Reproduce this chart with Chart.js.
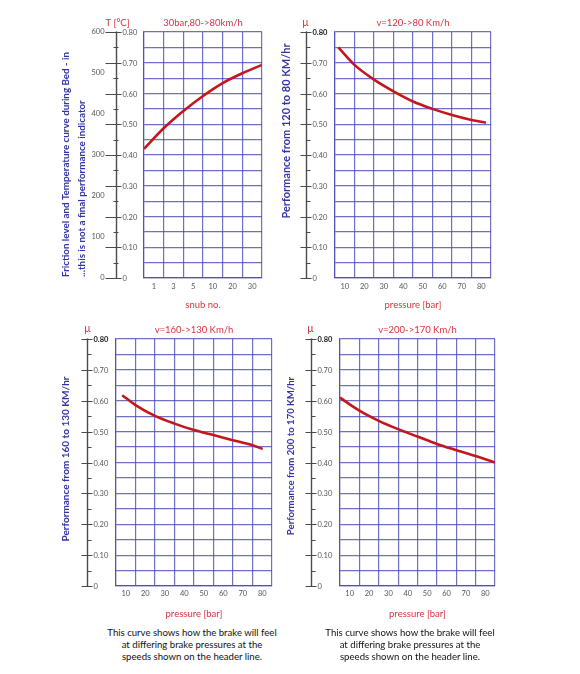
<!DOCTYPE html>
<html><head><meta charset="utf-8">
<script src="https://cdn.jsdelivr.net/npm/chart.js@4.4.1/dist/chart.umd.min.js"></script>
<style>
html,body{margin:0;padding:0;background:#fff;width:580px;height:674px;overflow:hidden}
canvas{position:absolute}
.cap{position:absolute;width:240px;text-align:center;font-family:Lato,sans-serif;font-size:9.6px;line-height:12px;color:#111}
</style></head><body>
<canvas id="c1" width="290" height="318" style="left:0;top:0"></canvas>
<canvas id="c2" width="305" height="318" style="left:275px;top:0"></canvas>
<canvas id="c3" width="290" height="315" style="left:0;top:310px"></canvas>
<canvas id="c4" width="305" height="315" style="left:275px;top:310px"></canvas>
<div class="cap" style="left:72px;top:627px">This curve shows how the brake will feel<br>at differing brake pressures at the<br>speeds shown on the header line.</div>
<div class="cap" style="left:290px;top:627px">This curve shows how the brake will feel<br>at differing brake pressures at the<br>speeds shown on the header line.</div>
<script>
// ---- data ----
const muTicks = [0, 0.1, 0.2, 0.3, 0.4, 0.5, 0.6, 0.7, 0.8];
const muTickLabels = ['0', '0.10', '0.20', '0.30', '0.40', '0.50', '0.60', '0.70', '0.80'];
const muMinor = [0.05, 0.15, 0.25, 0.35, 0.45, 0.55, 0.65, 0.75];
const tempTicks = [0, 100, 200, 300, 400, 500, 600];

const snubLabels = ['1', '3', '5', '10', '20', '30'];
const snubPos = [0, 1, 2, 3, 4, 5, 6];
const bedFriction = [0.420, 0.487, 0.543, 0.592, 0.634, 0.666, 0.693];

const pressureLabels = ['10', '20', '30', '40', '50', '60', '70', '80'];
const p120x = [6.7, 15, 25, 35, 45, 55, 65, 75, 82.4];
const mu120 = [0.750, 0.693, 0.645, 0.607, 0.574, 0.550, 0.530, 0.514, 0.505];
const p160x = [8.2, 15, 25, 35, 45, 55, 65, 75, 80.2];
const mu160 = [0.618, 0.586, 0.551, 0.526, 0.505, 0.489, 0.472, 0.456, 0.444];
const p200x = [5, 15, 25, 35, 45, 55, 65, 75, 85];
const mu200 = [0.610, 0.568, 0.535, 0.508, 0.484, 0.460, 0.440, 0.421, 0.400];

// ---- styles ----
const FONT = 'Lato, "Open Sans", sans-serif';
const RED = '#d8343f';
const CURVE = '#c4161e';
const GRID = 'rgba(72,72,178,0.78)';
const BLUE = '#3434a6';
const AXIS = '#4a4a4a';
const TICKC = '#555';

const extAxisPlugin = {
  id: 'extAxis',
  afterDraw(chart, args, o) {
    const ctx = chart.ctx, ys = chart.scales.y, ca = chart.chartArea;
    const ax = Math.round(ca.left + o.offset) + 0.5;
    ctx.save();
    ctx.strokeStyle = AXIS; ctx.lineWidth = 1.4;
    const line = (x1, y1, x2, y2) => { ctx.beginPath(); ctx.moveTo(x1, y1); ctx.lineTo(x2, y2); ctx.stroke(); };
    line(ax, ys.getPixelForValue(0) + 0.6, ax, ys.getPixelForValue(0.8) - 0.6);
    ctx.lineWidth = 1;
    ctx.fillStyle = TICKC;
    ctx.font = '7.5px ' + FONT;
    ctx.textBaseline = 'middle';
    ctx.textAlign = 'left';
    muTicks.forEach((v, i) => {
      const py = Math.round(ys.getPixelForValue(v)) + 0.5;
      line(ax - (o.showT ? 11 : 6), py, ax + 5, py);
      if (!o.showT && i === muTicks.length - 1) { ctx.font = 'bold 7.5px ' + FONT; ctx.fillStyle = '#222'; }
      ctx.fillText(muTickLabels[i], ax + 6, py);
      ctx.font = '7.5px ' + FONT; ctx.fillStyle = TICKC;
    });
    muMinor.forEach(v => {
      const py = Math.round(ys.getPixelForValue(v)) + 0.5;
      if (o.showT) line(ax - 3, py, ax + 2, py); else line(ax, py, ax + 4, py);
    });
    if (o.showT) {
      const ts = chart.scales.yT;
      ctx.textAlign = 'right';
      tempTicks.forEach(v => {
        ctx.fillText(String(v), ax - 12, ts.getPixelForValue(v));
      });
    }
    // red axis head label
    ctx.fillStyle = RED;
    ctx.textAlign = 'center';
    ctx.font = o.topFont + ' ' + FONT;
    ctx.fillText(o.topLabel, ax + o.topDx, o.topY);
    // rotated blue titles
    ctx.fillStyle = BLUE;
    o.titles.forEach(t => {
      ctx.save();
      ctx.translate(t.x, t.y);
      ctx.rotate(-Math.PI / 2);
      ctx.font = 'bold ' + t.size + 'px ' + FONT;
      ctx.textAlign = t.align;
      ctx.textBaseline = 'middle';
      ctx.fillText(t.text, 0, 0);
      ctx.restore();
    });
    ctx.restore();
  }
};

function makeChart(id, cfg) {
  const cv = document.getElementById(id);
  const W = cv.width, H = cv.height, a = cfg.area;
  const xAxisH = H - a.bottom;
  return new Chart(cv, {
    type: 'line',
    data: {
      datasets: [{
        data: cfg.xs.map((x, i) => ({ x: x, y: cfg.ys[i] })),
        xAxisID: 'xv', yAxisID: 'y',
        borderColor: CURVE, borderWidth: 2.6, pointRadius: 0,
        tension: 0.4, cubicInterpolationMode: 'monotone', fill: false
      }]
    },
    options: {
      responsive: false, animation: false,
      layout: { padding: { left: a.left, right: W - a.right, top: 0, bottom: 0 } },
      plugins: {
        legend: { display: false }, tooltip: { enabled: false },
        title: {
          display: true, text: cfg.title, color: RED, fullSize: false,
          font: { family: FONT, size: 9.5, weight: 'normal', lineHeight: 1 },
          padding: { top: a.top - 13.5, bottom: 4 }
        },
        extAxis: cfg.ext
      },
      scales: {
        x: {
          type: 'category', labels: cfg.cats, offset: true, position: 'bottom',
          grid: { offset: true, color: GRID, lineWidth: 1.2, drawTicks: false },
          border: { display: true, color: GRID, width: 1.2 },
          ticks: { color: TICKC, font: { family: FONT, size: 7.5 }, padding: cfg.tickPad, maxRotation: 0, autoSkip: false },
          title: { display: true, text: cfg.xTitle, color: RED, font: { family: FONT, size: 9.5, lineHeight: 1 }, padding: { top: 0, bottom: cfg.xTitlePad } },
          afterFit(s) { s.height = xAxisH; }
        },
        xv: { type: 'linear', display: false, min: cfg.xMin, max: cfg.xMax },
        y: {
          type: 'linear', position: 'left', min: 0, max: 0.8,
          ticks: { display: false, stepSize: 0.05 },
          grid: { color: GRID, lineWidth: 1.2, drawTicks: false },
          border: { display: true, color: GRID, width: 1.2 },
          afterFit(s) { s.width = 0; }
        },
        yT: { type: 'linear', display: false, position: 'left', min: 0, max: 600 }
      }
    },
    plugins: [extAxisPlugin]
  });
}

makeChart('c1', {
  area: { left: 144, right: 262, top: 32, bottom: 278 },
  cats: snubLabels, xs: snubPos, ys: bedFriction, xMin: 0, xMax: 6,
  title: '30bar,80->80km/h', xTitle: 'snub no.', xTitlePad: 8.5, tickPad: 4.5,
  ext: {
    offset: -28, showT: true, topLabel: 'T [°C]', topDx: 1, topY: 23, topFont: '9.5px',
    titles: [
      { text: 'Friction level and Temperature curve during Bed - in', x: 66, y: 277, align: 'left', size: 9.8 },
      { text: '...this is not a final performance indicator', x: 82, y: 277, align: 'left', size: 9.8 }
    ]
  }
});
makeChart('c2', {
  area: { left: 60, right: 216, top: 32, bottom: 278 },
  cats: pressureLabels, xs: p120x, ys: mu120, xMin: 5, xMax: 85,
  title: 'v=120->80 Km/h', xTitle: 'pressure [bar]', xTitlePad: 8.5, tickPad: 4.5,
  ext: {
    offset: -29, showT: false, topLabel: 'μ', topDx: -1, topY: 23, topFont: '10.5px',
    titles: [
      { text: 'Performance from 120 to 80 KM/hr', x: 11, y: 131, align: 'center', size: 11 }
    ]
  }
});
makeChart('c3', {
  area: { left: 116, right: 272, top: 29, bottom: 276 },
  cats: pressureLabels, xs: p160x, ys: mu160, xMin: 5, xMax: 85,
  title: 'v=160->130 Km/h', xTitle: 'pressure [bar]', xTitlePad: 6.5, tickPad: 3.5,
  ext: {
    offset: -29, showT: false, topLabel: 'μ', topDx: 0, topY: 19, topFont: '10.5px',
    titles: [
      { text: 'Performance from 160 to 130 KM/hr', x: 66, y: 149, align: 'center', size: 10 }
    ]
  }
});
makeChart('c4', {
  area: { left: 65, right: 220, top: 29, bottom: 276 },
  cats: pressureLabels, xs: p200x, ys: mu200, xMin: 5, xMax: 85,
  title: 'v=200->170 Km/h', xTitle: 'pressure [bar]', xTitlePad: 6.5, tickPad: 3.5,
  ext: {
    offset: -29, showT: false, topLabel: 'μ', topDx: -1, topY: 19, topFont: '10.5px',
    titles: [
      { text: 'Performance from 200 to 170 KM/hr', x: 16, y: 146, align: 'center', size: 9.6 }
    ]
  }
});
</script>
</body></html>
